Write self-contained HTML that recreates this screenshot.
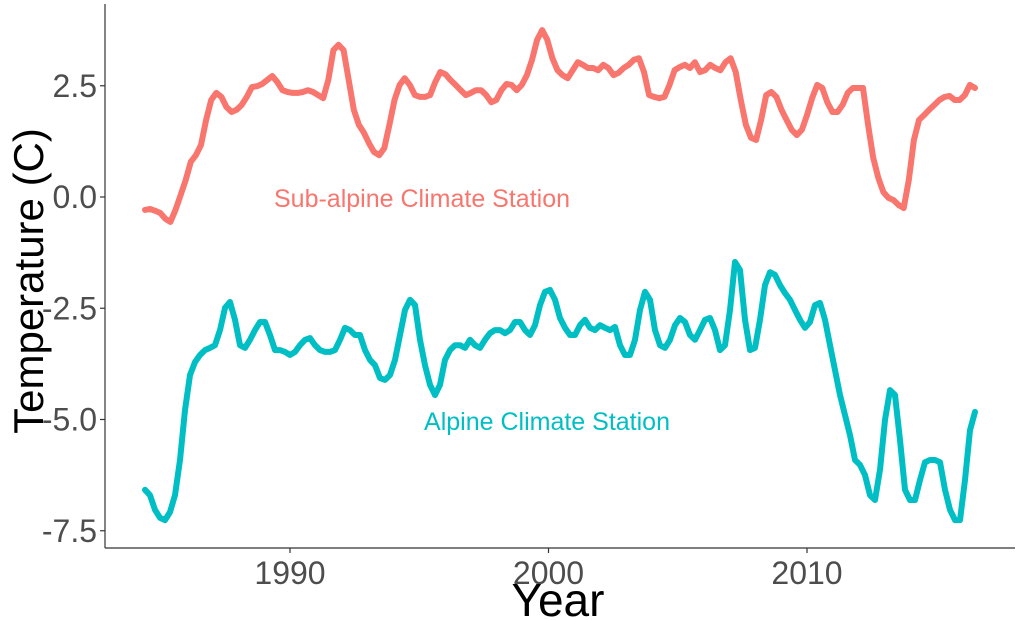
<!DOCTYPE html>
<html><head><meta charset="utf-8"><style>
html,body{margin:0;padding:0;background:#fff;width:1020px;height:620px;overflow:hidden}
svg text{font-family:"Liberation Sans",sans-serif}
</style></head><body>
<svg id="chart" width="1020" height="620" xmlns="http://www.w3.org/2000/svg">
<g id="axes"></g>
<g id="series"></g>
<text x="422" y="207" text-anchor="middle" font-size="25" fill="#F8766D">Sub-alpine Climate Station</text>
<text x="547" y="430" text-anchor="middle" font-size="25" fill="#00BFC4">Alpine Climate Station</text>
<text transform="translate(43,281) rotate(-90)" text-anchor="middle" font-size="42" fill="#000">Temperature (C)</text>
<text x="558" y="616" text-anchor="middle" font-size="46" fill="#000">Year</text>
</svg>
<script>
const startYear = 1984.39, endYear = 2016.5;
const subAlpine = [-0.29,-0.27,-0.31,-0.36,-0.49,-0.56,-0.29,0.04,0.38,0.79,0.94,1.17,1.73,2.18,2.34,2.25,2.02,1.91,1.96,2.07,2.25,2.47,2.49,2.54,2.63,2.72,2.58,2.40,2.36,2.34,2.34,2.36,2.40,2.36,2.29,2.22,2.63,3.30,3.42,3.30,2.63,1.96,1.62,1.44,1.21,1.01,0.94,1.10,1.62,2.18,2.52,2.67,2.52,2.29,2.25,2.25,2.29,2.58,2.81,2.76,2.63,2.52,2.40,2.29,2.34,2.40,2.40,2.29,2.13,2.18,2.40,2.54,2.52,2.40,2.52,2.74,3.08,3.53,3.75,3.53,3.12,2.85,2.74,2.67,2.85,3.03,2.97,2.90,2.90,2.85,2.97,2.90,2.74,2.79,2.90,2.97,3.08,3.12,2.81,2.29,2.25,2.22,2.25,2.52,2.85,2.92,2.97,2.90,3.03,2.81,2.85,2.97,2.90,2.85,3.03,3.12,2.81,2.18,1.62,1.33,1.28,1.73,2.29,2.36,2.25,1.96,1.73,1.51,1.39,1.51,1.84,2.22,2.52,2.45,2.13,1.91,1.91,2.07,2.34,2.45,2.45,2.45,1.62,0.88,0.43,0.11,-0.02,-0.07,-0.18,-0.25,0.38,1.28,1.73,1.84,1.96,2.07,2.18,2.25,2.27,2.18,2.18,2.29,2.52,2.45];
const alpine = [-6.58,-6.70,-7.03,-7.21,-7.26,-7.08,-6.70,-5.91,-4.79,-4.00,-3.71,-3.55,-3.44,-3.39,-3.33,-2.99,-2.49,-2.36,-2.76,-3.33,-3.39,-3.21,-2.99,-2.81,-2.81,-3.10,-3.44,-3.44,-3.48,-3.55,-3.48,-3.33,-3.21,-3.17,-3.33,-3.44,-3.48,-3.48,-3.44,-3.21,-2.94,-2.99,-3.10,-3.10,-3.44,-3.66,-3.78,-4.07,-4.11,-4.00,-3.66,-3.10,-2.54,-2.31,-2.43,-3.21,-3.78,-4.22,-4.45,-4.22,-3.66,-3.44,-3.33,-3.33,-3.39,-3.21,-3.33,-3.39,-3.21,-3.06,-2.99,-2.99,-3.06,-2.99,-2.81,-2.81,-2.99,-3.10,-2.88,-2.43,-2.13,-2.09,-2.31,-2.72,-2.94,-3.10,-3.10,-2.88,-2.76,-2.94,-2.99,-2.88,-2.94,-2.99,-2.92,-3.33,-3.55,-3.55,-3.21,-2.54,-2.13,-2.31,-2.99,-3.33,-3.39,-3.21,-2.88,-2.72,-2.81,-3.10,-3.21,-2.99,-2.76,-2.72,-2.99,-3.44,-3.33,-2.54,-1.46,-1.64,-2.76,-3.44,-3.39,-2.76,-1.98,-1.69,-1.75,-1.98,-2.16,-2.31,-2.54,-2.76,-2.94,-2.81,-2.43,-2.38,-2.76,-3.33,-3.89,-4.45,-4.90,-5.35,-5.91,-6.02,-6.25,-6.70,-6.81,-6.13,-5.01,-4.34,-4.45,-5.46,-6.58,-6.81,-6.81,-6.36,-5.96,-5.91,-5.91,-5.96,-6.58,-7.03,-7.26,-7.26,-6.36,-5.24,-4.83];
const xTicks = [1990, 2000, 2010];
const yTicks = [2.5, 0.0, -2.5, -5.0, -7.5];

const NS = "http://www.w3.org/2000/svg";
const xS = y => 290 + (y - 1990) * 25.85;
const yS = v => 197 - v * 44.5;
const axes = document.getElementById('axes');
const series = document.getElementById('series');
function mk(tag, attrs, parent){const e=document.createElementNS(NS,tag);for(const k in attrs)e.setAttribute(k,attrs[k]);parent.appendChild(e);return e;}

const yAxis = mk('line',{x1:105,y1:4,x2:105,y2:548,stroke:'#333','stroke-width':1.2},axes);


const xAxis = mk('line',{x1:105,y1:548,x2:1015,y2:548,stroke:'#333','stroke-width':1.2},axes);



yTicks.forEach(v=>{
  const tk = mk('line',{x1:100,x2:105,y1:yS(v),y2:yS(v),stroke:'#333','stroke-width':1.2},axes);
  
  
  const t = mk('text',{x:97,y:yS(v)+11,'text-anchor':'end','font-size':32,fill:'#4d4d4d'},axes);
  t.textContent = v.toFixed(1);
  
  
});
xTicks.forEach(y=>{
  const tk = mk('line',{x1:xS(y),x2:xS(y),y1:548,y2:553,stroke:'#333','stroke-width':1.2},axes);
  
  
  const t = mk('text',{x:xS(y),y:584,'text-anchor':'middle','font-size':32,fill:'#4d4d4d'},axes);
  t.textContent = y;
  
  
});

function drawLine(vals,color,name){
  const n = vals.length;
  const pts = vals.map((v,i)=>{const yr = startYear + i*(endYear-startYear)/(n-1);return xS(yr).toFixed(1)+','+yS(v).toFixed(1);});
  const p = mk('polyline',{points:pts.join(' '),fill:'none',stroke:color,'stroke-width':6,'stroke-linejoin':'round','stroke-linecap':'round'},series);
  
  
}
drawLine(subAlpine,'#F8766D','sub-alpine-line');
drawLine(alpine,'#00BFC4','alpine-line');
</script>
</body></html>
